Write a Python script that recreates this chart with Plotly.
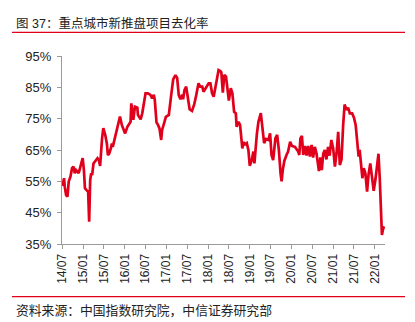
import plotly.graph_objects as go

# Weekly-ish sell-through rate of newly launched projects in key cities (%)
dates = [
    "2014-07-05", "2014-07-12", "2014-07-19", "2014-07-25", "2014-08-06", "2014-08-18", "2014-08-29",
    "2014-09-13", "2014-09-27", "2014-10-09", "2014-10-21", "2014-11-01", "2014-11-13", "2014-11-24",
    "2014-12-06", "2014-12-18", "2014-12-29", "2015-01-09", "2015-01-18", "2015-02-01", "2015-02-15",
    "2015-02-24", "2015-03-05", "2015-03-14", "2015-03-22", "2015-04-03", "2015-04-21", "2015-05-08",
    "2015-05-20", "2015-05-31", "2015-06-17", "2015-06-28", "2015-07-15", "2015-07-29", "2015-08-07",
    "2015-08-19", "2015-09-02", "2015-09-11", "2015-09-19", "2015-10-04", "2015-10-15", "2015-10-28",
    "2015-11-14", "2015-11-21", "2015-12-07", "2015-12-22", "2016-01-05", "2016-01-25", "2016-02-09",
    "2016-02-22", "2016-02-28", "2016-03-17", "2016-03-31", "2016-04-21", "2016-04-26", "2016-05-20",
    "2016-06-03", "2016-06-19", "2016-07-02", "2016-07-22", "2016-08-14", "2016-08-29", "2016-09-12",
    "2016-09-21", "2016-10-06", "2016-10-19", "2016-11-01", "2016-11-16", "2016-11-24", "2016-12-15",
    "2016-12-27", "2017-01-22", "2017-01-31", "2017-02-12", "2017-03-01", "2017-03-21", "2017-04-05",
    "2017-04-19", "2017-05-04", "2017-05-19", "2017-05-27", "2017-06-08", "2017-06-23", "2017-06-30",
    "2017-07-09", "2017-07-23", "2017-08-13", "2017-09-02", "2017-09-19", "2017-10-09", "2017-10-24",
    "2017-11-11", "2017-11-22", "2017-12-09", "2017-12-24", "2018-01-06", "2018-01-21", "2018-02-05",
    "2018-02-19", "2018-03-06", "2018-03-20", "2018-04-03", "2018-04-18", "2018-04-27", "2018-05-10",
    "2018-05-23", "2018-06-07", "2018-06-21", "2018-07-02", "2018-07-19", "2018-08-02", "2018-08-17",
    "2018-09-01", "2018-09-08", "2018-09-24", "2018-10-08", "2018-10-17", "2018-10-28", "2018-11-06",
    "2018-11-21", "2018-12-06", "2018-12-20", "2019-01-01", "2019-01-19", "2019-02-02", "2019-02-11",
    "2019-03-04", "2019-03-18", "2019-04-08", "2019-04-23", "2019-05-07", "2019-05-24", "2019-06-13",
    "2019-06-28", "2019-07-11", "2019-07-25", "2019-08-14", "2019-08-29", "2019-09-13", "2019-09-28",
    "2019-10-07", "2019-10-18", "2019-10-31", "2019-11-19", "2019-12-03", "2019-12-21", "2020-01-06",
    "2020-02-01", "2020-03-01", "2020-03-10", "2020-03-20", "2020-04-02", "2020-04-14", "2020-04-29",
    "2020-05-13", "2020-05-27", "2020-06-11", "2020-06-26", "2020-07-09", "2020-07-24", "2020-08-07",
    "2020-08-21", "2020-08-29", "2020-09-11", "2020-09-23", "2020-10-06", "2020-10-19", "2020-11-03",
    "2020-11-17", "2020-12-01", "2020-12-16", "2021-01-01", "2021-01-16", "2021-01-31", "2021-02-14",
    "2021-02-28", "2021-03-15", "2021-03-29", "2021-04-11", "2021-04-28", "2021-05-12", "2021-05-27",
    "2021-06-16", "2021-07-02", "2021-07-17", "2021-08-01", "2021-08-12", "2021-08-21", "2021-09-03",
    "2021-09-14", "2021-09-26", "2021-10-10", "2021-10-25", "2021-11-07", "2021-11-22", "2021-12-06",
    "2021-12-22", "2022-01-07", "2022-01-20", "2022-02-02", "2022-02-13", "2022-02-24", "2022-03-04",
    "2022-03-15", "2022-03-28",
]
rate = [
    53.5, 55.5, 56.0, 53.3, 50.6, 50.1, 54.9,
    56.5, 59.2, 59.7, 57.6, 58.6, 58.1, 57.6,
    59.2, 61.3, 62.4, 58.6, 52.8, 52.2, 51.7,
    42.1, 55.4, 57.6, 57.0, 60.7, 61.8, 62.4,
    61.8, 59.9, 68.7, 72.0, 69.8, 67.1, 63.4,
    63.9, 65.5, 67.1, 66.0, 68.2, 70.3, 71.4,
    74.0, 75.7, 73.0, 71.5, 70.3, 72.4, 73.5,
    74.0, 79.9, 74.6, 78.8, 78.5, 76.2, 74.8,
    76.7, 80.0, 83.1, 83.1, 82.6, 81.5, 82.6,
    81.0, 73.8, 73.0, 71.9, 68.2, 71.4, 74.0,
    75.6, 76.2, 78.3, 82.6, 87.5, 88.9, 88.0,
    82.5, 81.2, 82.6, 81.2, 84.1, 85.2, 83.1,
    81.0, 78.0, 77.5, 79.6, 82.5, 86.3, 85.2,
    85.2, 83.6, 84.7, 85.8, 86.3, 86.3, 83.1,
    82.0, 85.2, 88.9, 90.5, 90.2, 89.8, 83.3,
    89.0, 88.4, 84.1, 80.8, 84.7, 83.1, 77.2,
    76.7, 72.4, 74.0, 73.0, 69.2, 65.5, 67.5,
    66.8, 67.2, 65.0, 60.0, 61.8, 64.5, 60.7,
    70.0, 74.0, 76.8, 72.4, 67.2, 68.5, 68.2,
    70.3, 63.4, 61.8, 68.8, 69.8, 65.0, 57.5,
    55.0, 58.8, 61.5, 63.4, 64.5, 67.6, 66.3,
    66.0, 64.5, 63.4, 68.7, 69.5, 63.4, 66.3,
    63.2, 66.3, 62.9, 66.6, 62.6, 66.0, 64.0,
    60.5, 58.3, 62.6, 58.6, 63.8, 65.0, 62.0,
    66.0, 63.2, 68.2, 65.5, 59.7, 64.2, 70.8,
    60.2, 62.0, 72.7, 79.5, 77.8, 78.5, 76.7,
    76.7, 75.3, 73.0, 67.1, 62.9, 65.0, 61.0,
    56.0, 59.2, 57.6, 51.7, 57.2, 60.7, 56.5,
    52.0, 55.8, 59.7, 63.8, 56.0, 42.0, 37.9,
    40.0, 40.5,
]

tick_dates = [
    "2014-07-01", "2015-01-01", "2015-07-01", "2016-01-01", "2016-07-01", "2017-01-01",
    "2017-07-01", "2018-01-01", "2018-07-01", "2019-01-01", "2019-07-01", "2020-01-01",
    "2020-07-01", "2021-01-01", "2021-07-01", "2022-01-01",
]
tick_text = [
    "14/07", "15/01", "15/07", "16/01", "16/07", "17/01", "17/07", "18/01",
    "18/07", "19/01", "19/07", "20/01", "20/07", "21/01", "21/07", "22/01",
]
y_ticks = [35, 45, 55, 65, 75, 85, 95]
y_text = ["35%", "45%", "55%", "65%", "75%", "85%", "95%"]

title_text = "图 37：重点城市新推盘项目去化率"
source_text = "资料来源：中国指数研究院，中信证券研究部"

W, H = 415, 322
L, R, T, B = 62, 30, 56, 78
PW, PH = W - L - R, H - T - B

RED = "#e0001b"
FONT = "Liberation Sans, Arial, Noto Sans CJK SC, sans-serif"


def px_x(x):
    return (x - L) / PW


def px_y(y):
    return (H - B - y) / PH


fig = go.Figure()
fig.add_trace(go.Scatter(
    x=dates, y=rate, mode="lines",
    line=dict(color=RED, width=2.7),
    hoverinfo="skip", showlegend=False,
))

fig.update_layout(
    width=W, height=H,
    margin=dict(l=L, r=R, t=T, b=B, pad=0),
    paper_bgcolor="white", plot_bgcolor="white",
    font=dict(family=FONT, color="#222222", size=12),
    xaxis=dict(
        type="date",
        range=["2014-07-01", "2022-03-31"],
        tickmode="array", tickvals=tick_dates, ticktext=tick_text,
        tickangle=-90, tickfont=dict(size=12, color="#222222"),
        showgrid=False, zeroline=False,
        showline=True, linecolor="#9a9a9a", linewidth=1,
        ticks="outside", ticklen=4, tickcolor="#9a9a9a",
    ),
    yaxis=dict(
        range=[35, 95],
        tickmode="array", tickvals=y_ticks, ticktext=y_text,
        tickfont=dict(size=13, color="#222222"),
        showgrid=False, zeroline=False,
        showline=True, linecolor="#9a9a9a", linewidth=1,
        ticks="outside", ticklen=4, tickcolor="#9a9a9a",
        ticklabelstandoff=3,
    ),
    shapes=[
        dict(type="line", xref="paper", yref="paper",
             x0=px_x(12), x1=px_x(405), y0=px_y(32.3), y1=px_y(32.3),
             line=dict(color=RED, width=1.2)),
        dict(type="line", xref="paper", yref="paper",
             x0=px_x(12), x1=px_x(405), y0=px_y(296.7), y1=px_y(296.7),
             line=dict(color=RED, width=1.2)),
    ],
    annotations=[
        dict(text=title_text, xref="paper", yref="paper",
             x=px_x(14), y=px_y(23), xanchor="left", yanchor="middle",
             showarrow=False, font=dict(size=12.5, color="#222222", family=FONT)),
        dict(text=source_text, xref="paper", yref="paper",
             x=px_x(14), y=px_y(310), xanchor="left", yanchor="middle",
             showarrow=False, font=dict(size=12.8, color="#222222", family=FONT)),
    ],
)

fig.write_html("out.html")
